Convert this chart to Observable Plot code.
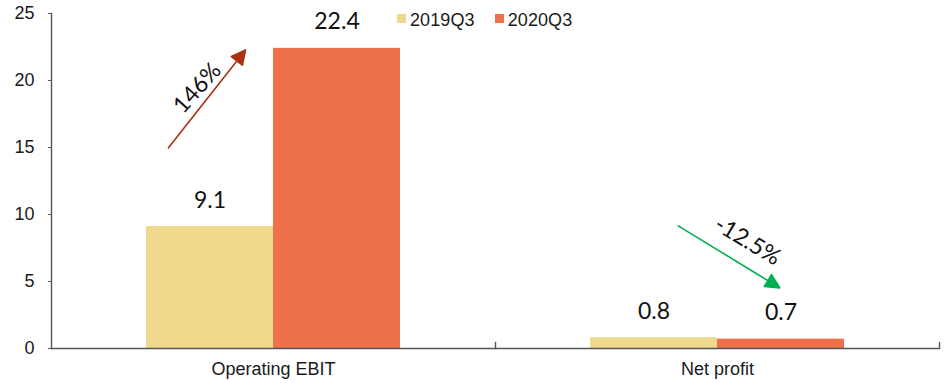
<!DOCTYPE html>
<html><head><meta charset="utf-8">
<script src="https://cdn.jsdelivr.net/npm/d3@7"></script>
<script src="https://cdn.jsdelivr.net/npm/@observablehq/plot@0.6"></script>
<style>
body{margin:0;background:#fff;}
#wrap{position:relative;width:944px;height:383px;}
#legend{position:absolute;left:397px;top:10px;}
#legend > div{min-height:0 !important;margin:0 !important;font-family:"Liberation Sans",Arial,sans-serif !important;font-size:18px !important;color:#1a1a1a;letter-spacing:0.1px;}
#legend span{margin-right:20px !important;}
#legend span > svg{margin-right:4px !important;position:relative;top:-2px;}
</style></head><body><div id="wrap"><div id="legend"></div></div>
<script>
const categories = ["Operating EBIT", "Net profit"];
const series = ["2019Q3", "2020Q3"];
const values2019Q3 = [9.1, 0.8];
const values2020Q3 = [22.4, 0.7];
const yTicks = [0, 5, 10, 15, 20, 25];
const changeLabels = ["146%", "-12.5%"];
const colors = ["#EFD98D", "#EE714B"];

const data = [];
categories.forEach((c, i) => {
  data.push({cat: c, series: series[0], value: values2019Q3[i]});
  data.push({cat: c, series: series[1], value: values2020Q3[i]});
});
const up = [{cat: categories[0], label: changeLabels[0]}];
const down = [{cat: categories[1], label: changeLabels[1]}];

const arrowShape = {
  draw(context, l) {
    const h = 14, w = 7;
    context.moveTo(0, 0);
    context.lineTo(0, -l + h);
    context.moveTo(0, -l);
    context.lineTo(-w, -l + h);
    context.lineTo(w, -l + h);
    context.closePath();
  }
};

const axisColor = "#555";
const H = 383, MT = 13, MB = 35;

const chart = Plot.plot({
  width: 944, height: H,
  marginLeft: 50, marginRight: 5, marginTop: MT, marginBottom: MB,
  style: {fontFamily: "'Liberation Sans', Arial, sans-serif", fontSize: "18px", color: "#1a1a1a", background: "#fff"},
  fx: {domain: categories, padding: 0, label: null},
  x: {domain: series, paddingInner: 0, paddingOuter: 0.748, axis: null},
  y: {domain: [0, 25], label: null},
  color: {domain: series, range: colors},
  marks: [
    Plot.barY(data, {fx: "cat", x: "series", y: "value", fill: "series"}),
    Plot.ruleY([0], {stroke: axisColor, strokeWidth: 1.4}),
    Plot.frame({anchor: "left", facetAnchor: "left", stroke: axisColor, strokeWidth: 1.4}),
    Plot.frame({anchor: "right", insetTop: H - MT - MB - 6, stroke: axisColor, strokeWidth: 1.4}),
    Plot.axisY({ticks: yTicks, tickSize: 3, tickPadding: 14, stroke: axisColor, label: null, letterSpacing: 0.2}),
    Plot.axisFx({anchor: "bottom", tickSize: 0, tickPadding: 14, label: null, letterSpacing: 0.2}),
    Plot.text(data, {fx: "cat", x: "series", y: "value", text: d => d.value.toFixed(1),
      lineAnchor: "bottom", dy: -19, fontFamily: "Lato", fontSize: 23, fill: "#111"}),
    Plot.vector(up, {fx: "cat", x: () => series[0], y: () => 18.63, dx: -3, length: 124.6, rotate: 38.2,
      anchor: "middle", shape: arrowShape, stroke: "#A93212", fill: "#A93212", strokeWidth: 1.6}),
    Plot.vector(down, {fx: "cat", x: () => series[1], y: () => 6.84, dx: -52, length: 119.1, rotate: 121.4,
      anchor: "middle", shape: arrowShape, stroke: "#00B050", fill: "#00B050", strokeWidth: 1.6}),
    Plot.text(up, {fx: "cat", x: () => series[0], y: () => 19.44, dx: -12.6, text: "label", rotate: -48,
      fontFamily: "Lato", fontSize: 23, fill: "#111"}),
    Plot.text(down, {fx: "cat", x: () => series[1], y: () => 8.02, dx: -33.5, text: "label", rotate: 31,
      fontFamily: "Lato", fontSize: 23, fill: "#111"})
  ]
});
document.getElementById("wrap").prepend(chart);

const legend = Plot.legend({color: {domain: series, range: colors}, legend: "swatches", swatchSize: 9});
document.getElementById("legend").appendChild(legend);
</script></body></html>
